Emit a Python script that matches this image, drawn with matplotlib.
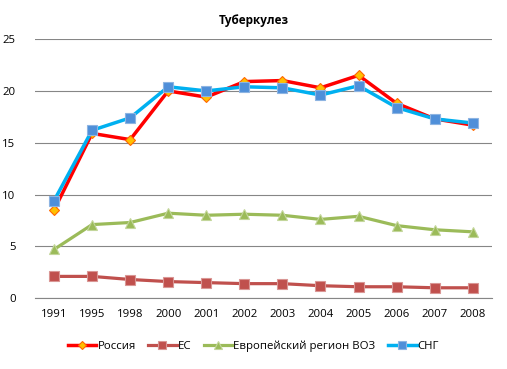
import matplotlib
matplotlib.use("Agg")
import matplotlib.pyplot as plt

years = ["1991", "1995", "1998", "2000", "2001", "2002", "2003", "2004", "2005", "2006", "2007", "2008"]
russia = [8.5, 15.9, 15.3, 20.0, 19.4, 20.9, 21.0, 20.3, 21.5, 18.8, 17.3, 16.7]
eu = [2.1, 2.1, 1.8, 1.6, 1.5, 1.4, 1.4, 1.2, 1.1, 1.1, 1.0, 1.0]
who = [4.7, 7.1, 7.3, 8.2, 8.0, 8.1, 8.0, 7.6, 7.9, 7.0, 6.6, 6.4]
cis = [9.4, 16.2, 17.4, 20.4, 20.0, 20.4, 20.3, 19.6, 20.5, 18.4, 17.3, 16.9]
yticks = [0, 5, 10, 15, 20, 25]

plt.rcParams['font.family'] = ['Open Sans', 'DejaVu Sans']

fig = plt.figure(figsize=(5.07, 3.69), dpi=100)
ax = fig.add_axes([0.069, 0.192, 0.901, 0.702])
x = list(range(len(years)))

ax.plot(x, eu, color='#C0504D', lw=2.3, marker='s', ms=7, mfc='#C0504D', mec='#D99694', mew=0.8, label='ЕС', zorder=3)
ax.plot(x, who, color='#9BBB59', lw=2.3, marker='^', ms=7.5, mfc='#9BBB59', mec='#C3D69B', mew=0.8, label='Европейский регион ВОЗ', zorder=3)
ax.plot(x, russia, color='#FF0000', lw=2.5, marker='D', ms=5.5, mfc='#FFC000', mec='#FF6600', mew=0.8, label='Россия', zorder=4)
ax.plot(x, cis, color='#00B0F0', lw=2.5, marker='s', ms=7, mfc='#4F8FD9', mec='#8DB4E2', mew=0.8, label='СНГ', zorder=5)

ax.set_xlim(-0.5, len(years) - 0.5)
ax.set_ylim(0, 25)
ax.set_yticks(yticks)
ax.set_xticks(x)
ax.set_xticklabels(years, fontsize=8.2)
ax.set_yticklabels([str(v) for v in yticks], fontsize=8.2)
ax.tick_params(length=0, pad=8)
ax.tick_params(axis='y', pad=14)
ax.grid(axis='y', color='#868686', lw=0.8)
ax.set_axisbelow(True)
for s in ['top', 'right', 'left']:
    ax.spines[s].set_visible(False)
ax.spines['bottom'].set_color('#868686')
ax.spines['bottom'].set_linewidth(0.8)

fig.text(0.5, 0.945, 'Туберкулез', ha='center', va='center', fontsize=8.5, fontweight='bold')

h, l = ax.get_legend_handles_labels()
order = [2, 0, 1, 3]
fig.legend([h[i] for i in order], [l[i] for i in order], loc='center', bbox_to_anchor=(0.5, 0.062),
           ncol=4, frameon=False, fontsize=8.2, handlelength=2.5, handletextpad=0.1, columnspacing=1.1,
           markerscale=0.8)

fig.savefig('out.png', dpi=100)
